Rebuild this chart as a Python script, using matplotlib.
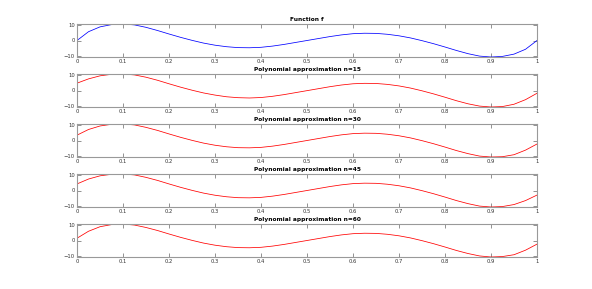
import numpy as np
import matplotlib
matplotlib.use("Agg")
import matplotlib.pyplot as plt

# sample points
x = [0.000, 0.025, 0.050, 0.075, 0.100, 0.125, 0.150, 0.175, 0.200, 0.225,
     0.250, 0.275, 0.300, 0.325, 0.350, 0.375, 0.400, 0.425, 0.450, 0.475,
     0.500, 0.525, 0.550, 0.575, 0.600, 0.625, 0.650, 0.675, 0.700, 0.725,
     0.750, 0.775, 0.800, 0.825, 0.850, 0.875, 0.900, 0.925, 0.950, 0.975, 1.000]

f = [0.0, 5.8, 9.0, 10.5, 10.9, 10.3, 8.7, 6.6, 4.3, 2.1,
     0.1, -1.7, -3.1, -4.1, -4.7, -4.8, -4.5, -3.7, -2.6, -1.3,
     0.0, 1.3, 2.6, 3.7, 4.5, 4.8, 4.7, 4.1, 3.1, 1.7,
     -0.1, -2.1, -4.3, -6.6, -8.7, -10.3, -10.9, -10.5, -9.0, -5.8, 0.0]

p15 = [4.8, 7.6, 9.6, 10.6, 10.8, 10.2, 8.7, 6.7, 4.4, 2.2,
       0.2, -1.6, -3.0, -4.1, -4.7, -4.9, -4.6, -3.8, -2.7, -1.4,
       -0.1, 1.2, 2.5, 3.6, 4.4, 4.7, 4.6, 4.0, 3.0, 1.6,
       -0.2, -2.2, -4.4, -6.7, -8.7, -10.2, -10.8, -10.5, -9.0, -6.0, -1.8]

p30 = [3.5, 7.2, 9.5, 10.6, 10.8, 10.2, 8.6, 6.6, 4.3, 2.1,
       0.1, -1.7, -3.1, -4.1, -4.7, -4.8, -4.5, -3.7, -2.6, -1.3,
       0.0, 1.3, 2.6, 3.7, 4.5, 4.8, 4.7, 4.1, 3.1, 1.7,
       -0.1, -2.1, -4.3, -6.6, -8.6, -10.2, -10.8, -10.6, -9.3, -6.3, -2.3]

p45 = [4.3, 7.5, 9.6, 10.6, 10.8, 10.2, 8.6, 6.6, 4.3, 2.1,
       0.1, -1.7, -3.1, -4.1, -4.7, -4.8, -4.5, -3.7, -2.6, -1.3,
       0.0, 1.3, 2.6, 3.7, 4.5, 4.8, 4.7, 4.1, 3.1, 1.7,
       -0.1, -2.1, -4.3, -6.6, -8.6, -10.2, -10.8, -10.5, -9.2, -6.6, -3.0]

p60 = [1.5, 6.1, 9.1, 10.5, 10.9, 10.2, 8.6, 6.6, 4.3, 2.1,
       0.1, -1.7, -3.1, -4.1, -4.7, -4.8, -4.5, -3.7, -2.6, -1.3,
       0.0, 1.3, 2.6, 3.7, 4.5, 4.8, 4.7, 4.1, 3.1, 1.7,
       -0.1, -2.1, -4.3, -6.6, -8.6, -10.2, -10.9, -10.6, -9.4, -6.4, -2.4]

titles = ["Function f", "Polynomial approximation n=15", "Polynomial approximation n=30",
          "Polynomial approximation n=45", "Polynomial approximation n=60"]
series = [f, p15, p30, p45, p60]
colors = ["#0000ff", "#ff0000", "#ff0000", "#ff0000", "#ff0000"]

xticks = [0, 0.1, 0.2, 0.3, 0.4, 0.5, 0.6, 0.7, 0.8, 0.9, 1]
xticklabels = ["0", "0.1", "0.2", "0.3", "0.4", "0.5", "0.6", "0.7", "0.8", "0.9", "1"]
yticks = [-10, 0, 10]

W, H = 592, 289
fig = plt.figure(figsize=(W / 100, H / 100), dpi=100)

for i in range(5):
    top = 24 + 50 * i
    ax = fig.add_axes([77 / W, (H - top - 33) / H, 460 / W, 33 / H])
    y = series[i]
    ax.plot(x, y, color=colors[i], lw=0.55)
    ax.set_xlim(0, 1)
    ax.set_ylim(min(y), max(y))
    ax.set_xticks(xticks)
    ax.set_xticklabels(xticklabels)
    ax.set_yticks(yticks)
    ax.tick_params(direction="in", length=3, width=0.5, labelsize=3.8,
                   top=True, right=True, pad=1.5, colors="#666666", labelcolor="#333333")
    for s in ax.spines.values():
        s.set_color("#999999")
        s.set_linewidth(0.8)
    ax.set_title(titles[i], fontsize=4.2, fontweight="bold", pad=2)

fig.savefig("out.png", dpi=100)
